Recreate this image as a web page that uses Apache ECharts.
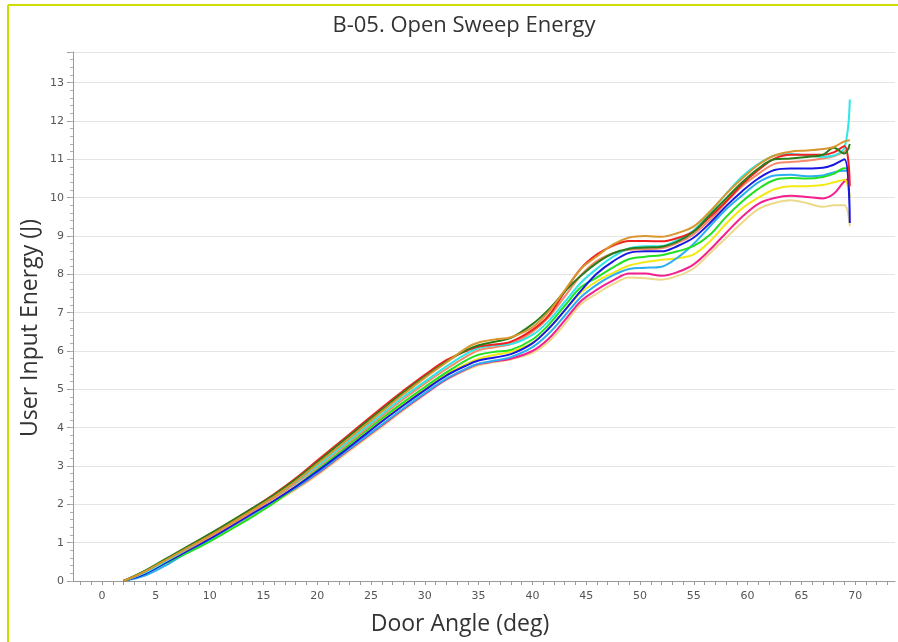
<!DOCTYPE html>
<html><head><meta charset="utf-8">
<script src="https://cdn.jsdelivr.net/npm/echarts@6/dist/echarts.min.js"></script>
<style>html,body{margin:0;padding:0;background:#fff}#c{width:898px;height:642px}</style>
</head><body><div id="c"></div>
<script>
const angles = [2,4,6,8,10,12,14,16,18,20,22,24,26,28,30,32,34,35,36.5,38,40,41.5,43,44.5,46,47.5,49,50.5,52,53.5,55,56.5,58,59.5,61,62.5,64,65.5,67,68,69,69.5];

const orangeRun = [0,0.25,0.56,0.87,1.18,1.51,1.85,2.2,2.6,3.05,3.5,3.96,4.42,4.87,5.3,5.7,6.1,6.22,6.3,6.36,6.62,7.02,7.58,8.14,8.47,8.78,8.96,9.0,8.98,9.08,9.25,9.64,10.1,10.5,10.86,11.1,11.2,11.23,11.27,11.32,11.47,11.5];
const redRun = [0,0.26,0.58,0.9,1.22,1.55,1.9,2.27,2.68,3.14,3.6,4.06,4.52,4.96,5.38,5.76,6.02,6.12,6.17,6.24,6.55,6.92,7.55,8.15,8.52,8.75,8.87,8.87,8.86,8.95,9.12,9.5,9.9,10.35,10.72,11.02,11.12,11.12,11.12,11.18,11.35,10.3];
const darkGreenRun = [0,0.27,0.59,0.91,1.23,1.56,1.9,2.25,2.65,3.1,3.56,4.02,4.47,4.92,5.33,5.72,6.04,6.15,6.24,6.34,6.7,7.08,7.55,7.96,8.3,8.55,8.67,8.7,8.72,8.86,9.12,9.55,9.98,10.4,10.76,11.0,11.02,11.06,11.12,11.3,11.15,11.4];
const cyanRun = [0,0.22,0.53,0.86,1.19,1.53,1.86,2.2,2.58,3.0,3.45,3.9,4.35,4.8,5.2,5.6,5.95,6.08,6.15,6.18,6.42,6.78,7.28,7.78,8.15,8.46,8.68,8.73,8.74,8.9,9.15,9.6,10.1,10.55,10.88,11.1,11.14,11.1,11.07,11.1,11.3,12.56];
const salmonRun = [0,0.23,0.53,0.84,1.15,1.48,1.82,2.16,2.54,2.96,3.4,3.85,4.3,4.74,5.15,5.53,5.88,6.02,6.1,6.18,6.5,6.88,7.42,7.97,8.35,8.55,8.64,8.66,8.68,8.82,9.05,9.42,9.88,10.3,10.62,10.88,10.93,10.96,11.02,11.08,11.2,11.3];
const blueRun = [0,0.19,0.49,0.8,1.1,1.43,1.77,2.1,2.46,2.86,3.28,3.72,4.16,4.58,4.98,5.36,5.64,5.75,5.83,5.92,6.2,6.58,7.06,7.57,8.02,8.34,8.56,8.6,8.6,8.74,8.96,9.34,9.78,10.17,10.5,10.72,10.76,10.76,10.78,10.86,11.0,9.34];
const lightBlueRun = [0,0.14,0.42,0.76,1.08,1.42,1.75,2.08,2.43,2.82,3.24,3.66,4.08,4.5,4.9,5.28,5.56,5.67,5.75,5.84,6.1,6.45,6.92,7.4,7.73,7.98,8.14,8.17,8.2,8.44,8.8,9.25,9.7,10.06,10.4,10.58,10.6,10.56,10.58,10.66,10.7,10.7];
const greenRun = [0,0.2,0.48,0.74,1.03,1.35,1.68,2.04,2.46,2.9,3.34,3.8,4.24,4.66,5.06,5.44,5.78,5.9,5.98,6.03,6.3,6.68,7.18,7.66,7.92,8.18,8.4,8.46,8.5,8.6,8.74,9.03,9.5,9.9,10.23,10.46,10.51,10.5,10.54,10.62,10.77,10.75];
const yellowRun = [0,0.2,0.5,0.8,1.1,1.43,1.75,2.08,2.44,2.86,3.3,3.75,4.2,4.62,5.02,5.4,5.68,5.8,5.9,5.98,6.22,6.58,7.05,7.52,7.82,8.04,8.23,8.32,8.38,8.42,8.52,8.86,9.32,9.72,10.0,10.22,10.3,10.3,10.33,10.4,10.47,10.0];
const pinkRun = [0,0.2,0.5,0.8,1.1,1.42,1.74,2.08,2.42,2.8,3.22,3.64,4.06,4.48,4.88,5.26,5.55,5.66,5.73,5.8,6.0,6.32,6.8,7.3,7.6,7.84,8.02,8.02,7.96,8.06,8.26,8.64,9.08,9.5,9.84,9.99,10.05,10.02,9.98,10.1,10.43,10.5];
const khakiRun = [0,0.2,0.48,0.78,1.08,1.4,1.72,2.04,2.38,2.76,3.18,3.6,4.02,4.45,4.86,5.25,5.52,5.63,5.71,5.78,5.95,6.24,6.7,7.22,7.5,7.75,7.92,7.9,7.86,7.96,8.16,8.55,8.95,9.35,9.7,9.86,9.93,9.86,9.76,9.8,9.8,9.25];

const xTickLabels = [0,5,10,15,20,25,30,35,40,45,50,55,60,65,70];
const yTickLabels = [0,1,2,3,4,5,6,7,8,9,10,11,12,13];

const runs = [
  {name:'Run K', data:khakiRun, color:'#ecd98a'},
  {name:'Run P', data:pinkRun, color:'#f5208f'},
  {name:'Run Y', data:yellowRun, color:'#f2ea12'},
  {name:'Run LB', data:lightBlueRun, color:'#2aaff0'},
  {name:'Run G', data:greenRun, color:'#22e022'},
  {name:'Run B', data:blueRun, color:'#1818e0'},
  {name:'Run S', data:salmonRun, color:'#f58a6a'},
  {name:'Run C', data:cyanRun, color:'#2de6e6'},
  {name:'Run R', data:redRun, color:'#f22020'},
  {name:'Run DG', data:darkGreenRun, color:'#2a7d1a'},
  {name:'Run O', data:orangeRun, color:'#d9962e'}
];

const xMinor = []; for (let v = -2; v <= 73; v++) xMinor.push(v);
const yMinor = []; for (let v = 0; v <= 69; v++) yMinor.push(Math.round(v*2)/10);
const yMajor = yTickLabels.concat([13.8]);

const chart = echarts.init(document.getElementById('c'), null, {renderer:'canvas'});
chart.setOption({
  animation:false,
  backgroundColor:'#ffffff',
  title:{text:'B-05. Open Sweep Energy', left:459, top:10, textAlign:'center',
    textStyle:{fontFamily:'Open Sans', fontSize:22, fontWeight:'normal', color:'#333'}},
  grid:{left:73, right:3, top:52, bottom:61},
  xAxis:[
    {type:'value', min:-2.7, max:73.7,
     axisLine:{onZero:false, lineStyle:{color:'#9a9a9a'}},
     axisTick:{customValues:xMinor, length:4, lineStyle:{color:'#9a9a9a'}},
     axisLabel:{customValues:xTickLabels, color:'#555', fontSize:11, fontFamily:'DejaVu Sans', margin:10},
     splitLine:{show:false}}
  ],
  yAxis:[
    {type:'value', min:0, max:13.8,
     axisLine:{show:true, onZero:false, lineStyle:{color:'#9a9a9a'}},
     axisTick:{show:true, customValues:yMajor, length:6, lineStyle:{color:'#9a9a9a'}},
     axisLabel:{customValues:yTickLabels, color:'#555', fontSize:11, fontFamily:'DejaVu Sans', margin:9},
     splitLine:{show:true, lineStyle:{color:'#e4e4e4', width:1}}},
    {type:'value', min:0, max:13.8, position:'left', offset:0,
     axisLine:{show:false, onZero:false},
     axisTick:{show:true, customValues:yMinor, length:3, lineStyle:{color:'#b0b0b0'}},
     axisLabel:{show:false}, splitLine:{show:false}}
  ],
  series: runs.map(r => ({
    name:r.name, type:'line', xAxisIndex:0, yAxisIndex:0,
    data: angles.map((a,i) => [a, r.data[i]]),
    showSymbol:false, smooth:0.35,
    lineStyle:{color:r.color, width:2}, itemStyle:{color:r.color}
  })),
  graphic:[
    {type:'line', shape:{x1:8, y1:5, x2:898, y2:5}, style:{stroke:'#cfdc00', lineWidth:2}, silent:true},
    {type:'line', shape:{x1:8, y1:5, x2:8, y2:642}, style:{stroke:'#cfdc00', lineWidth:2}, silent:true},
    {type:'text', x:460, y:624, style:{text:'Door Angle (deg)', textAlign:'center', textVerticalAlign:'middle',
      font:'23px "Open Sans"', fill:'#333'}},
    {type:'text', x:30, y:328, rotation:Math.PI/2, style:{text:'User Input Energy (J)', textAlign:'center', textVerticalAlign:'middle',
      font:'23px "Open Sans"', fill:'#333'}}
  ]
});
</script></body></html>
